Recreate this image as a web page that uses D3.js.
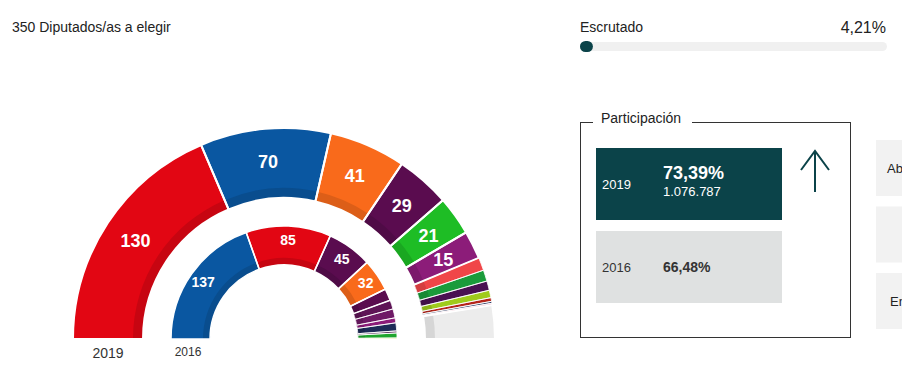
<!DOCTYPE html>
<html>
<head>
<meta charset="utf-8">
<script src="https://cdn.jsdelivr.net/npm/d3@7"></script>
<style>
  body { margin: 0; background: #fff; }
  svg text { font-family: "Liberation Sans", Arial, sans-serif; }
</style>
</head>
<body>
<div id="chart"></div>
<script>
// data
var parties2019 = ["PSOE", "PP", "Cs", "UP", "Vox", "ERC", "JxCat", "PNV", "EH Bildu", "CC", "NA+", "Compromís", "PRC", "Pendientes"];
var seats2019 = [130, 70, 41, 29, 21, 15, 7, 6, 5, 4, 2, 1, 1, 18];
var colors2019 = ["#e20613", "#0a57a1", "#f96a1b", "#5a0c4f", "#1ebd25", "#8c1c79", "#f04648", "#1b9b3b", "#4a1152", "#9fcb1c", "#b5241a", "#1e2b57", "#f4b6c8", "#ececec"];

var parties2016 = ["PP", "PSOE", "UP", "Cs", "ECP", "Compromís-Podemos", "ERC", "En Marea", "CDC", "EH Bildu", "PNV", "CC"];
var seats2016 = [137, 85, 45, 32, 12, 9, 9, 5, 8, 2, 5, 1];
var colors2016 = ["#0a57a1", "#e20613", "#5a0c4f", "#f96a1b", "#5a0c4f", "#5e1456", "#6f1a66", "#8c1c79", "#1e2b57", "#3d1340", "#1fa52d", "#c8d92a"];

var totalSeats = 350;
var escrutado = 4.21;
var participacion = [
  {year: "2019", pct: "73,39%", votes: "1.076.787"},
  {year: "2016", pct: "66,48%", votes: ""}
];
var sideLabels = ["Ab", "", "En"];

var width = 902, height = 376;
var svg = d3.select('#chart').append('svg')
    .attr('width', width)
    .attr('height', height);

// header
svg.append('text').attr('x', 12).attr('y', 32)
    .attr('font-size', 14).attr('fill', '#222')
    .text(totalSeats + ' Diputados/as a elegir');

// hemicycle
var cx = 284, cy = 339;
var pie = d3.pie().sort(null).startAngle(-Math.PI / 2).endAngle(Math.PI / 2);

function ring(values, colors, rIn, rOut, band, labelR, minLabel, fontSize, strokeW, pending) {
    var g = svg.append('g').attr('transform', 'translate(' + cx + ',' + cy + ')');
    var arcs = pie(values);
    var full = d3.arc().innerRadius(rIn).outerRadius(rOut);
    var bandArc = d3.arc().innerRadius(rIn).outerRadius(rIn + band);

    g.selectAll('.seg').data(arcs).enter().append('path')
        .attr('class', 'seg')
        .attr('d', full)
        .attr('fill', function(d, i){ return colors[i]; });

    // darker inner band
    g.selectAll('.band').data(arcs).enter().append('path')
        .attr('class', 'band')
        .attr('d', bandArc)
        .attr('fill', function(d, i){
            return colors[i] == '#ececec' ? '#d6d6d6' : d3.color(colors[i]).darker(0.35);
        });

    // white separators, thinner between small parties
    g.selectAll('.sep').data(arcs).enter().append('path')
        .attr('class', 'sep')
        .attr('d', full)
        .attr('fill', 'none')
        .attr('stroke', '#fff')
        .attr('stroke-width', function(d){ return d.value >= 10 ? strokeW : 0.8; });

    var labelArc = d3.arc().innerRadius(labelR).outerRadius(labelR);
    g.selectAll('.lbl').data(arcs.filter(function(d){ return d.value >= minLabel && !(pending && d.index == values.length - 1); }))
        .enter().append('text')
        .attr('class', 'lbl')
        .attr('transform', function(d){ return 'translate(' + labelArc.centroid(d) + ')'; })
        .attr('text-anchor', 'middle')
        .attr('dy', '0.36em')
        .attr('font-size', fontSize)
        .attr('font-weight', 'bold')
        .attr('fill', '#fff')
        .text(function(d){ return d.value; });
}

ring(seats2019, colors2019, 141, 211, 10, 178, 15, 18, 2, true);
ring(seats2016, colors2016, 74, 113, 7, 99, 30, 14, 1.5, false);

svg.append('text').attr('x', 108).attr('y', 358).attr('text-anchor', 'middle')
    .attr('font-size', 14).attr('fill', '#333').text('2019');
svg.append('text').attr('x', 188).attr('y', 356).attr('text-anchor', 'middle')
    .attr('font-size', 12).attr('fill', '#333').text('2016');

// escrutado
var barX = d3.scaleLinear().domain([0, 100]).range([580, 887]);
svg.append('text').attr('x', 580).attr('y', 32).attr('font-size', 14).attr('fill', '#222').text('Escrutado');
svg.append('text').attr('x', 886).attr('y', 33).attr('text-anchor', 'end')
    .attr('font-size', 16).attr('fill', '#222').text(String(escrutado).replace('.', ',') + '%');
svg.append('rect').attr('x', barX(0)).attr('y', 42).attr('width', barX(100) - barX(0)).attr('height', 9)
    .attr('rx', 4.5).attr('fill', '#f0f0f0');
svg.append('rect').attr('x', barX(0)).attr('y', 41).attr('width', barX(escrutado) - barX(0)).attr('height', 11)
    .attr('rx', 5.5).attr('fill', '#0b4349');

// participacion box
svg.append('rect').attr('x', 580.5).attr('y', 122.5).attr('width', 270).attr('height', 215)
    .attr('fill', 'none').attr('stroke', '#333').attr('stroke-width', 1);
svg.append('rect').attr('x', 593).attr('y', 114).attr('width', 99).attr('height', 16).attr('fill', '#fff');
svg.append('text').attr('x', 601).attr('y', 123).attr('font-size', 14).attr('fill', '#222').text('Participación');

var boxY = [148, 231];
participacion.forEach(function(p, i){
    var dark = i == 0;
    svg.append('rect').attr('x', 596).attr('y', boxY[i]).attr('width', 186).attr('height', 72)
        .attr('fill', dark ? '#0b4349' : '#dfe1e1');
    svg.append('text').attr('x', 602).attr('y', boxY[i] + 41).attr('font-size', 13)
        .attr('fill', dark ? '#fff' : '#333').text(p.year);
    svg.append('text').attr('x', 663).attr('y', dark ? boxY[i] + 31 : boxY[i] + 41)
        .attr('font-size', dark ? 18 : 14).attr('font-weight', 'bold')
        .attr('fill', dark ? '#fff' : '#333').text(p.pct);
    if (p.votes) {
        svg.append('text').attr('x', 663).attr('y', boxY[i] + 48).attr('font-size', 13)
            .attr('fill', '#fff').text(p.votes);
    }
});

// arrow
svg.append('path').attr('d', 'M815,192 L815,151 M801,170 L815,151 L829,170')
    .attr('fill', 'none').attr('stroke', '#0b4349').attr('stroke-width', 2);

// side cards (cut off by the window, as in the original)
sideLabels.forEach(function(t, i){
    var y = 140 + i * 66.5;
    svg.append('rect').attr('x', 876).attr('y', y).attr('width', 40).attr('height', 56).attr('fill', '#f2f2f2');
    if (t) svg.append('text').attr('x', i == 0 ? 887 : 890).attr('y', y + 33).attr('font-size', 13).attr('fill', '#222').text(t);
});
</script>
</body>
</html>
